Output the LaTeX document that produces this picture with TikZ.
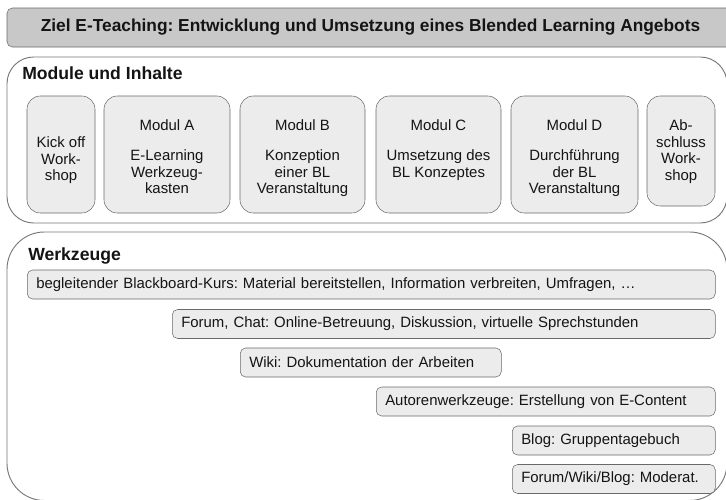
\documentclass[tikz,border=0pt]{standalone}
\usepackage{fontspec}
\setmainfont{Liberation Sans}
\frenchspacing
\usetikzlibrary{positioning}
\definecolor{titlegray}{RGB}{200,200,200}
\definecolor{boxgray}{RGB}{236,236,236}
\definecolor{linegray}{RGB}{105,105,105}
\definecolor{panelgray}{RGB}{120,120,120}
\definecolor{textblack}{RGB}{20,20,20}
\tikzset {
    title box/.style = {draw = linegray, fill = titlegray, rounded corners = 4pt,
        minimum width = 545.25pt, minimum height = 29.25pt,
        font = \fontsize{13}{15}\selectfont\bfseries, text = textblack},
    panel/.style = {draw = panelgray, line width = 0.7pt},
    heading/.style = {anchor = base west, inner sep = 0pt,
        font = \fontsize{13.2}{15}\selectfont\bfseries, text = textblack},
    module/.style = {draw = linegray, fill = boxgray, rounded corners = 10pt,
        minimum height = 87.75pt, inner sep = 0pt},
    module text/.style = {anchor = north, align = center, inner sep = 0pt,
        font = \fontsize{11.2}{12.4}\selectfont, text = textblack},
    tool/.style = {draw = linegray, fill = boxgray, rounded corners = 4pt,
        anchor = west, minimum height = 21.75pt, inner xsep = 6.75pt, align = left,
        font = \fontsize{11.2}{13}\selectfont, text = textblack}
}
\begin{document}
\begin{tikzpicture}[x = 0.75pt, y = -0.75pt]
    \useasboundingbox (0, 0) rectangle (726, 500);
    \clip (0, 0) rectangle (726, 500);
    % Ziel
    \node (ziel) [title box] at (370.5, 27.5)
        {Ziel E-Teaching: Entwicklung und Umsetzung eines Blended Learning Angebots};
    % Module und Inhalte
    \draw [panel, rounded corners = 20pt] (7, 57) rectangle (727, 223);
    \node (modhead) [heading] at (22, 79) {Module und Inhalte};
    \node (kick) [module, minimum width = 51pt] at (61, 154.5) {};
    \node (moda) [module, minimum width = 94.5pt] at (167, 154.5) {};
    \node (modb) [module, minimum width = 93.75pt] at (302.5, 154.5) {};
    \node (modc) [module, minimum width = 93.75pt] at (438.5, 154.5) {};
    \node (modd) [module, minimum width = 95.25pt] at (574.5, 154.5) {};
    \node (absch) [module, minimum width = 51pt, minimum height = 82.5pt] at (681, 151) {};
    \node [module text, yshift = -30.75pt] at (kick.north) {Kick off\\Work-\\shop};
    \node [module text, yshift = -18pt] at (moda.north)
        {Modul A\\[10pt]E-Learning\\Werkzeug-\\kasten};
    \node [module text, yshift = -18pt] at (modb.north)
        {Modul B\\[10pt]Konzeption\\einer BL\\Veranstaltung};
    \node [module text, yshift = -18pt] at (modc.north)
        {Modul C\\[10pt]Umsetzung des\\BL Konzeptes};
    \node [module text, yshift = -18pt] at (modd.north)
        {Modul D\\[10pt]Durchführung\\der BL\\Veranstaltung};
    \node [module text, yshift = -18pt] at (absch.north) {Ab-\\schluss\\Work-\\shop};
    % Werkzeuge
    \draw [panel, rounded corners = 28pt] (7, 232) rectangle (727, 500.5);
    \node (wzhead) [heading] at (28, 260) {Werkzeuge};
    \node (bb) [tool, text width = 502.5pt] at (27, 284.5)
        {begleitender Blackboard-Kurs: Material bereitstellen, Information verbreiten, Umfragen, \dots};
    \node (forum) [tool, text width = 393.75pt] at (172, 324)
        {Forum, Chat: Online-Betreuung, Diskussion, virtuelle Sprechstunden};
    \node (wiki) [tool, text width = 182.25pt] at (240, 362.5)
        {Wiki: Dokumentation der Arbeiten};
    \node (autor) [tool, text width = 240.75pt] at (376, 401.5)
        {Autorenwerkzeuge: Erstellung von E-Content};
    \node (blog) [tool, text width = 138.75pt] at (512, 440.5)
        {Blog: Gruppentagebuch};
    \node (moderat) [tool, text width = 138.75pt] at (512, 479)
        {Forum/Wiki/Blog: Moderat.};
\end{tikzpicture}
\end{document}
